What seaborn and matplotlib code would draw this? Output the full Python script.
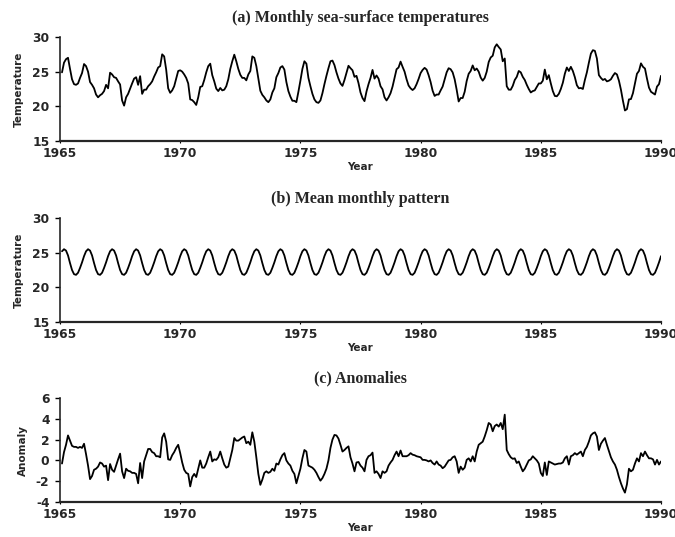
import numpy as np
import pandas as pd
import matplotlib
matplotlib.use("Agg")
import matplotlib.pyplot as plt
import seaborn as sns

# Mean sea-surface temperature for each calendar month (Jan..Dec)
monthly_pattern = [25.2, 25.5, 25.3, 24.6, 23.5, 22.5, 21.9, 21.8, 22.1, 22.8, 23.6, 24.5]

# Monthly anomalies from the mean pattern, one list per year (Jan..Dec)
anom_1965 = [-0.3, 0.8, 1.5, 2.4, 1.9, 1.4, 1.3, 1.3, 1.2, 1.3, 1.2, 1.6]
anom_1966 = [0.6, -0.5, -1.8, -1.5, -0.9, -0.8, -0.6, -0.2, -0.3, -0.6, -0.5, -1.9]
anom_1967 = [-0.35, -0.9, -1.1, -0.5, 0.1, 0.65, -1.05, -1.7, -0.8, -1.0, -1.05, -1.2]
anom_1968 = [-1.2, -1.3, -2.2, -0.25, -1.7, -0.1, 0.5, 1.1, 1.1, 0.8, 0.7, 0.4]
anom_1969 = [0.4, 0.3, 2.2, 2.6, 1.8, 0.1, 0.05, 0.5, 0.8, 1.2, 1.5, 0.7]
anom_1970 = [-0.2, -0.9, -1.2, -1.3, -2.5, -1.6, -1.3, -1.6, -0.8, 0.0, -0.7, -0.7]
anom_1971 = [-0.3, 0.3, 0.85, -0.1, 0.1, 0.05, 0.3, 0.85, 0.2, -0.4, -0.7, -0.6]
anom_1972 = [0.2, 1.0, 2.15, 1.9, 1.9, 2.05, 2.2, 2.3, 1.65, 1.8, 1.5, 2.7]
anom_1973 = [1.8, 0.3, -1.3, -2.35, -1.85, -1.2, -1.05, -1.2, -1.1, -0.8, -1.0, -0.3]
anom_1974 = [-0.4, 0.1, 0.5, 0.7, 0.0, -0.3, -0.5, -1.0, -1.3, -2.2, -1.5, -0.8]
anom_1975 = [0.2, 1.0, 0.85, -0.5, -0.6, -0.7, -0.9, -1.2, -1.6, -1.95, -1.7, -1.3]
anom_1976 = [-0.8, 0.0, 1.2, 2.0, 2.45, 2.4, 2.1, 1.5, 0.85, 1.0, 1.2, 1.35]
anom_1977 = [0.3, -0.3, -1.05, -0.2, -0.15, -0.5, -0.7, -1.05, 0.05, 0.4, 0.5, 0.75]
anom_1978 = [-1.2, -1.05, -1.3, -1.7, -1.05, -1.2, -1.05, -0.5, -0.2, 0.05, 0.5, 0.85]
anom_1979 = [0.4, 0.95, 0.4, 0.4, 0.4, 0.5, 0.7, 0.55, 0.5, 0.4, 0.35, 0.3]
anom_1980 = [0.05, 0.05, 0.0, -0.1, 0.0, -0.25, -0.4, -0.1, -0.4, -0.5, -0.75, -0.6]
anom_1981 = [-0.3, 0.0, 0.05, 0.3, 0.4, -0.1, -1.2, -0.6, -0.9, -0.7, 0.05, 0.2]
anom_1982 = [-0.1, 0.4, -0.1, 0.85, 1.5, 1.65, 1.8, 2.3, 2.9, 3.6, 3.45, 2.8]
anom_1983 = [3.3, 3.45, 3.25, 3.6, 3.0, 4.4, 1.0, 0.6, 0.3, 0.15, 0.2, -0.25]
anom_1984 = [-0.1, -0.6, -1.05, -0.8, -0.4, 0.0, 0.1, 0.4, 0.2, 0.0, -0.3, -1.2]
anom_1985 = [-1.5, -0.2, -1.4, -0.1, -0.2, -0.3, -0.4, -0.35, -0.3, -0.3, -0.2, 0.2]
anom_1986 = [0.4, -0.4, 0.4, 0.5, 0.7, 0.55, 0.7, 0.85, 0.4, 1.0, 1.3, 1.8]
anom_1987 = [2.4, 2.6, 2.7, 2.3, 1.0, 1.6, 1.9, 2.15, 1.5, 0.9, 0.3, -0.1]
anom_1988 = [-0.4, -0.9, -1.6, -2.2, -2.7, -3.1, -2.3, -0.8, -1.05, -0.9, -0.3, 0.2]
anom_1989 = [-0.1, 0.7, 0.4, 0.85, 0.5, 0.2, 0.2, 0.1, -0.4, 0.05, -0.4, -0.1]

tick_years = [1965, 1970, 1975, 1980, 1985, 1990]
titles = ["(a) Monthly sea-surface temperatures",
          "(b) Mean monthly pattern",
          "(c) Anomalies"]

anomalies = np.concatenate([
    anom_1965, anom_1966, anom_1967, anom_1968, anom_1969, anom_1970,
    anom_1971, anom_1972, anom_1973, anom_1974, anom_1975, anom_1976,
    anom_1977, anom_1978, anom_1979, anom_1980, anom_1981, anom_1982,
    anom_1983, anom_1984, anom_1985, anom_1986, anom_1987, anom_1988,
    anom_1989,
])
n_years = len(anomalies) // 12
pattern = np.tile(monthly_pattern, n_years)
temperature = pattern + anomalies
time = 1965 + np.arange(1, len(anomalies) + 1) / 12.0

df = pd.DataFrame({"time": time, "temperature": temperature,
                   "pattern": pattern, "anomaly": anomalies})

sns.set_style("ticks")
plt.rcParams["font.family"] = ["DejaVu Sans"]

fig = plt.figure(figsize=(6.75, 5.37), dpi=100)
W, H = 675, 537
left, right = 60, 661
panels = [
    ("temperature", "Temperature", (15, 30), [15, 20, 25, 30], 37, 141),
    ("pattern", "Temperature", (15, 30), [15, 20, 25, 30], 218, 322),
    ("anomaly", "Anomaly", (-4, 6), [-4, -2, 0, 2, 4, 6], 398, 502),
]

tick_font = dict(family="DejaVu Sans", weight="bold", size=8.8)
label_font = dict(family="DejaVu Sans", weight="bold", size=7.5)

for (col, ylabel, ylim, yticks, top, bottom), title in zip(panels, titles):
    ax = fig.add_axes([left / W, 1 - bottom / H, (right - left) / W, (bottom - top) / H])
    sns.lineplot(data=df, x="time", y=col, ax=ax, color="black", linewidth=1.3)
    ax.set_xlim(1965, 1990)
    ax.set_ylim(*ylim)
    ax.set_xticks(tick_years)
    ax.set_yticks(yticks)
    ax.set_xticklabels([str(y) for y in tick_years], fontdict=tick_font)
    ax.set_yticklabels([str(v) for v in yticks], fontdict=tick_font)
    ax.tick_params(axis="y", length=3.6, width=1.0, pad=4, color="black")
    ax.tick_params(axis="x", length=1.5, width=0.8, pad=2.6, color="black")
    sns.despine(ax=ax)
    ax.spines["left"].set_linewidth(1.2)
    ax.spines["bottom"].set_linewidth(1.6)
    ax.set_xlabel("Year", fontdict=label_font, labelpad=2)
    ax.set_ylabel(ylabel, fontdict=label_font, labelpad=6)
    ax.set_title(title, family=["Liberation Serif", "DejaVu Serif"],
                 weight="bold", size=11.5, pad=11)

fig.savefig("out.png", dpi=100)
